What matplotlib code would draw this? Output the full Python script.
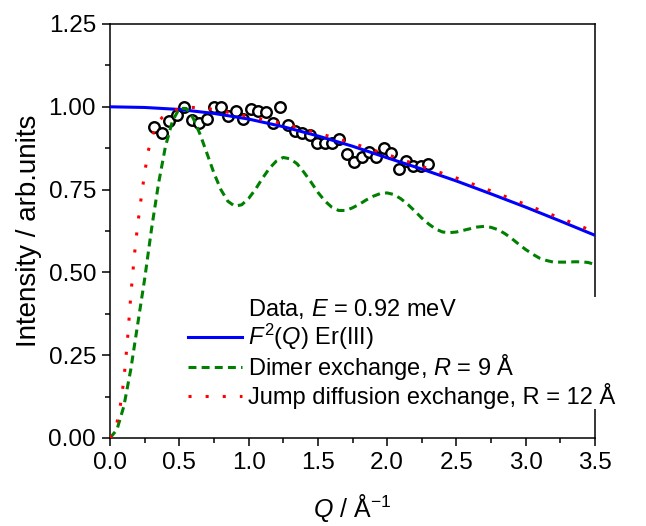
import matplotlib
matplotlib.use("Agg")
import matplotlib.pyplot as plt
from matplotlib.lines import Line2D
from matplotlib.ticker import MultipleLocator

plt.rcParams['font.family'] = ['Liberation Sans', 'DejaVu Sans']
plt.rcParams['mathtext.fontset'] = 'custom'
plt.rcParams['mathtext.rm'] = 'Liberation Sans'
plt.rcParams['mathtext.it'] = 'Liberation Sans:italic'

# ---- data ----
q_data = [0.320, 0.375, 0.428, 0.486, 0.536, 0.592, 0.642, 0.697, 0.750, 0.798,
          0.854, 0.907, 0.962, 1.017, 1.070, 1.123, 1.174, 1.229, 1.282, 1.337,
          1.388, 1.443, 1.496, 1.549, 1.602, 1.655, 1.710, 1.763, 1.816, 1.869,
          1.921, 1.975, 2.027, 2.083, 2.136, 2.188, 2.241, 2.297]
i_data = [0.938, 0.920, 0.958, 0.976, 0.998, 0.960, 0.950, 0.964, 0.998, 1.000,
          0.972, 0.986, 0.964, 0.993, 0.986, 0.983, 0.950, 1.000, 0.944, 0.926,
          0.922, 0.914, 0.890, 0.892, 0.890, 0.902, 0.858, 0.834, 0.848, 0.864,
          0.849, 0.877, 0.859, 0.811, 0.835, 0.822, 0.822, 0.828]

q_ff = [0.0, 0.25, 0.5, 0.75, 1.0, 1.25, 1.5, 1.75, 2.0, 2.25, 2.5, 2.75, 3.0, 3.25, 3.5]
ff2 = [1.000, 0.998, 0.992, 0.980, 0.963, 0.940, 0.912, 0.881, 0.846, 0.812,
       0.776, 0.737, 0.697, 0.655, 0.612]

q_dimer = [0.00, 0.05, 0.10, 0.15, 0.20, 0.25, 0.30, 0.35, 0.40, 0.45, 0.50, 0.55,
           0.60, 0.65, 0.70, 0.75, 0.80, 0.85, 0.90, 0.95, 1.00, 1.05, 1.10, 1.15,
           1.20, 1.25, 1.30, 1.35, 1.40, 1.45, 1.50, 1.55, 1.60, 1.65, 1.70, 1.75,
           1.80, 1.85, 1.90, 1.95, 2.00, 2.05, 2.10, 2.15, 2.20, 2.25, 2.30, 2.35,
           2.40, 2.45, 2.50, 2.55, 2.60, 2.65, 2.70, 2.75, 2.80, 2.85, 2.90, 2.95,
           3.00, 3.05, 3.10, 3.15, 3.20, 3.25, 3.30, 3.35, 3.40, 3.45, 3.50]
i_dimer = [0.000, 0.025, 0.096, 0.207, 0.344, 0.480, 0.632, 0.768, 0.880, 0.956, 0.995, 0.995,
           0.966, 0.917, 0.859, 0.800, 0.750, 0.715, 0.700, 0.704, 0.723, 0.751, 0.784, 0.814,
           0.836, 0.847, 0.843, 0.828, 0.802, 0.773, 0.742, 0.716, 0.697, 0.687, 0.687, 0.695,
           0.706, 0.719, 0.730, 0.738, 0.740, 0.735, 0.722, 0.705, 0.685, 0.664, 0.646, 0.631,
           0.622, 0.620, 0.622, 0.627, 0.632, 0.637, 0.639, 0.636, 0.629, 0.617, 0.602, 0.585,
           0.569, 0.555, 0.543, 0.536, 0.531, 0.531, 0.531, 0.532, 0.532, 0.530, 0.524]

q_jump = [0.000, 0.025, 0.050, 0.075, 0.100, 0.125, 0.150, 0.175, 0.200, 0.225, 0.250,
          0.275, 0.300, 0.325, 0.350, 0.375, 0.400, 0.450, 0.500, 0.550, 0.600, 0.700,
          0.800, 0.900, 1.000, 1.250, 1.500, 1.750, 2.000, 2.250, 2.500, 2.750, 3.000,
          3.250, 3.500]
i_jump = [0.000, 0.015, 0.045, 0.100, 0.175, 0.290, 0.430, 0.548, 0.645, 0.725, 0.800,
          0.865, 0.905, 0.935, 0.955, 0.967, 0.975, 0.986, 0.995, 0.998, 0.998, 0.995,
          0.988, 0.979, 0.971, 0.949, 0.921, 0.890, 0.856, 0.820, 0.785, 0.746, 0.705,
          0.664, 0.622]

x_ticks = [0.0, 0.5, 1.0, 1.5, 2.0, 2.5, 3.0, 3.5]
y_ticks = [0.00, 0.25, 0.50, 0.75, 1.00, 1.25]

labels = ["Data, $E$ = 0.92 meV",
          "$F^2$($Q$) Er(III)",
          "Dimer exchange, $R$ = 9 Å",
          "Jump diffusion exchange, R = 12 Å"]

# ---- figure ----
fig = plt.figure(figsize=(6.46, 5.26), dpi=100)
ax = fig.add_axes([110/646, 1-438/526, 485/646, 414/526])

ax.plot(q_data, i_data, linestyle='none', marker='o', ms=7.6, mew=1.7,
        mfc='white', mec='black', zorder=2)
ax.plot(q_ff, ff2, color='#0000ff', lw=2.2, zorder=3, solid_capstyle='butt')
ax.plot(q_dimer, i_dimer, color='#008000', lw=2.2, linestyle=(0, (2.6, 1.7)), zorder=3)
ax.plot(q_jump, i_jump, color='#ff0000', lw=2.2, linestyle=(0, (1.0, 4.6)), zorder=4)

ax.set_xlim(0, 3.5)
ax.set_ylim(0, 1.25)
ax.set_xticks(x_ticks)
ax.set_yticks(y_ticks)
ax.xaxis.set_minor_locator(MultipleLocator(0.25))
ax.yaxis.set_minor_locator(MultipleLocator(0.125))
ax.set_xticklabels([f"{v:.1f}" for v in x_ticks])
ax.set_yticklabels([f"{v:.2f}" for v in y_ticks])
ax.tick_params(which='major', direction='out', length=6, width=1.1,
               labelsize=17.5, pad=4, top=False, right=False)
ax.tick_params(which='minor', direction='out', length=3.5, width=1.1,
               top=False, right=False)
for s in ax.spines.values():
    s.set_linewidth(1.1)

ax.set_xlabel("$Q$ / Å$^{-1}$", fontsize=18, labelpad=13)
ax.set_ylabel("Intensity / arb.units", fontsize=20, labelpad=5)

handles = [Line2D([], [], linestyle='none'),
           Line2D([], [], color='#0000ff', lw=2.2),
           Line2D([], [], color='#008000', lw=2.2, linestyle=(0, (2.6, 1.7))),
           Line2D([], [], color='#ff0000', lw=2.2, linestyle=(0, (1.0, 4.6)))]
leg = ax.legend(handles, labels, loc='upper left', bbox_to_anchor=(0.16, 0.34),
                frameon=True, fontsize=17, handlelength=2.3, handletextpad=0.25,
                labelspacing=0.02, borderpad=0, borderaxespad=0, fancybox=False)
leg.get_frame().set_facecolor('white')
leg.get_frame().set_edgecolor('none')
leg.get_frame().set_alpha(1.0)
leg.set_zorder(5)

fig.savefig("out.png", dpi=100)
